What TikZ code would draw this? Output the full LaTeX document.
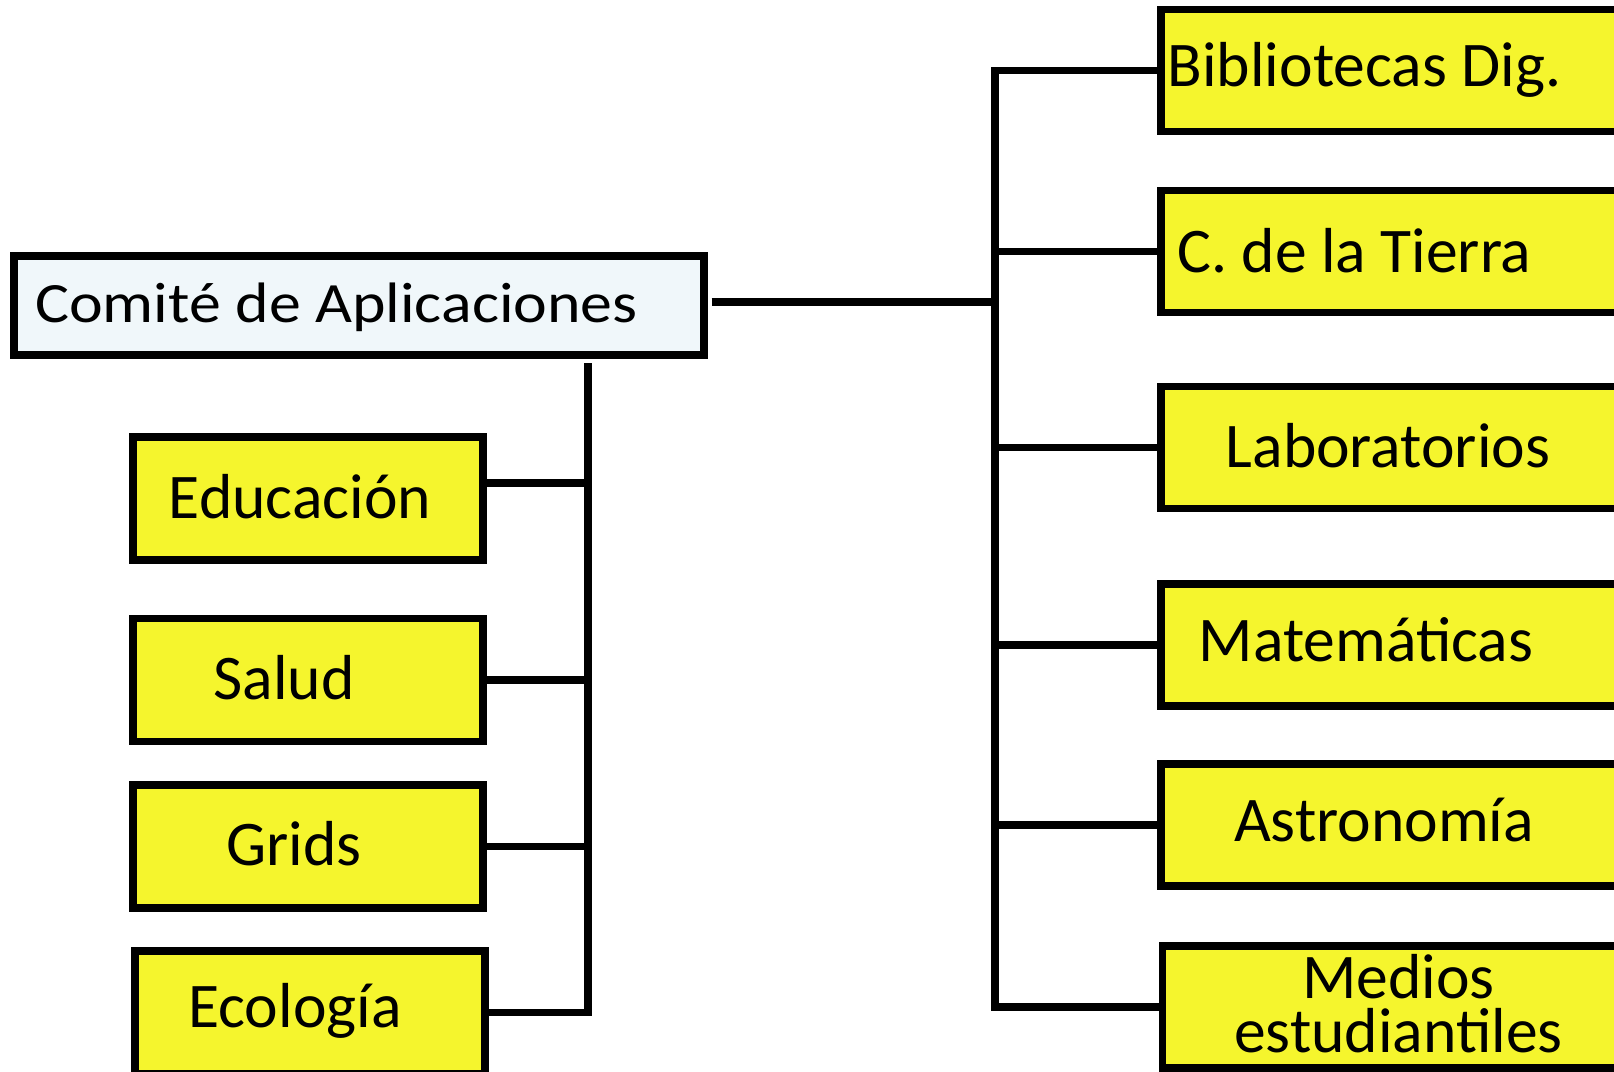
\documentclass[tikz,border=0pt]{standalone}
\usepackage{fontspec}
\setmainfont{Carlito}
\definecolor{areayellow}{RGB}{245,245,45}
\definecolor{headfill}{RGB}{240,247,250}
\tikzset{
  area/.style={draw, line width=3.6pt, fill=areayellow, inner sep=0pt},
  rarea/.style={area, minimum width=228.5pt, minimum height=61pt},
  larea/.style={area, minimum width=175pt, minimum height=61.5pt},
  areatext/.style={font=\fontsize{31.8}{27}\selectfont, align=center},
  link/.style={line width=3.6pt}
}
\begin{document}
\begin{tikzpicture}[x=0.5pt,y=-0.5pt]
      \clip (0,0) rectangle (1614,1072);

      % Committee
      \node[draw, line width=3.6pt, fill=headfill, inner sep=0pt, minimum width=345pt, minimum height=49.5pt,
        label={[font=\fontsize{28.5}{28.5}\selectfont, shift={(-22.5,1.5)}]center:\scalebox{1.12}[1]{Comité de Aplicaciones}}]
        (comite) at (359,305.5) {};

      % Right boxes
      \node[rarea, label={[areatext, shift={(-25,-1)}]center:Bibliotecas Dig.}] (bib) at (1389.5,70.5) {};
      \node[rarea, label={[areatext, shift={(-35,-1)}]center:C. de la Tierra}] (tierra) at (1389.5,251.5) {};
      \node[rarea, label={[areatext, shift={(-1.5,-2)}]center:Laboratorios}] (lab) at (1389.5,447.5) {};
      \node[rarea, label={[areatext, shift={(-23.5,-5)}]center:Matemáticas}] (mate) at (1389.5,645) {};
      \node[rarea, label={[areatext, shift={(-5.5,-5)}]center:Astronomía}] (astro) at (1389.5,825) {};
      \node[rarea, label={[areatext, shift={(7.5,-3)}]center:Medios\\estudiantiles}] (medios) at (1391,1007) {};

      % Left boxes
      \node[larea, label={[areatext, shift={(-8,-1.5)}]center:Educación}] (educ) at (308,498.5) {};
      \node[larea, label={[areatext, shift={(-24,-2)}]center:Salud}] (salud) at (308,680) {};
      \node[larea, label={[areatext, shift={(-14,-2.5)}]center:Grids}] (grids) at (308,846.5) {};
      \node[larea, label={[areatext, shift={(-15,-1.5)}]center:Ecología}] (ecol) at (310,1012.5) {};

      % Lines
      \coordinate (rbus) at (995,0);
      \coordinate (lbus) at (588,363);
      \draw[link] ([xshift=2pt,yshift=1.75pt]comite.east) -- ([yshift=1.75pt]comite.east -| rbus);
      \draw[link] (bib.west) -- (bib.west -| rbus) -- (medios.west -| rbus) -- (medios.west);
      \draw[link] (tierra.west) -- (tierra.west -| rbus);
      \draw[link] (lab.west) -- (lab.west -| rbus);
      \draw[link] (mate.west) -- (mate.west -| rbus);
      \draw[link] (astro.west) -- (astro.west -| rbus);
      \draw[link] (lbus) -- (lbus |- ecol.east) -- (ecol.east);
      \draw[link] ([yshift=7.75pt]educ.east) -- ([yshift=7.75pt]educ.east -| lbus);
      \draw[link] (salud.east) -- (salud.east -| lbus);
      \draw[link] (grids.east) -- (grids.east -| lbus);
\end{tikzpicture}
\end{document}
